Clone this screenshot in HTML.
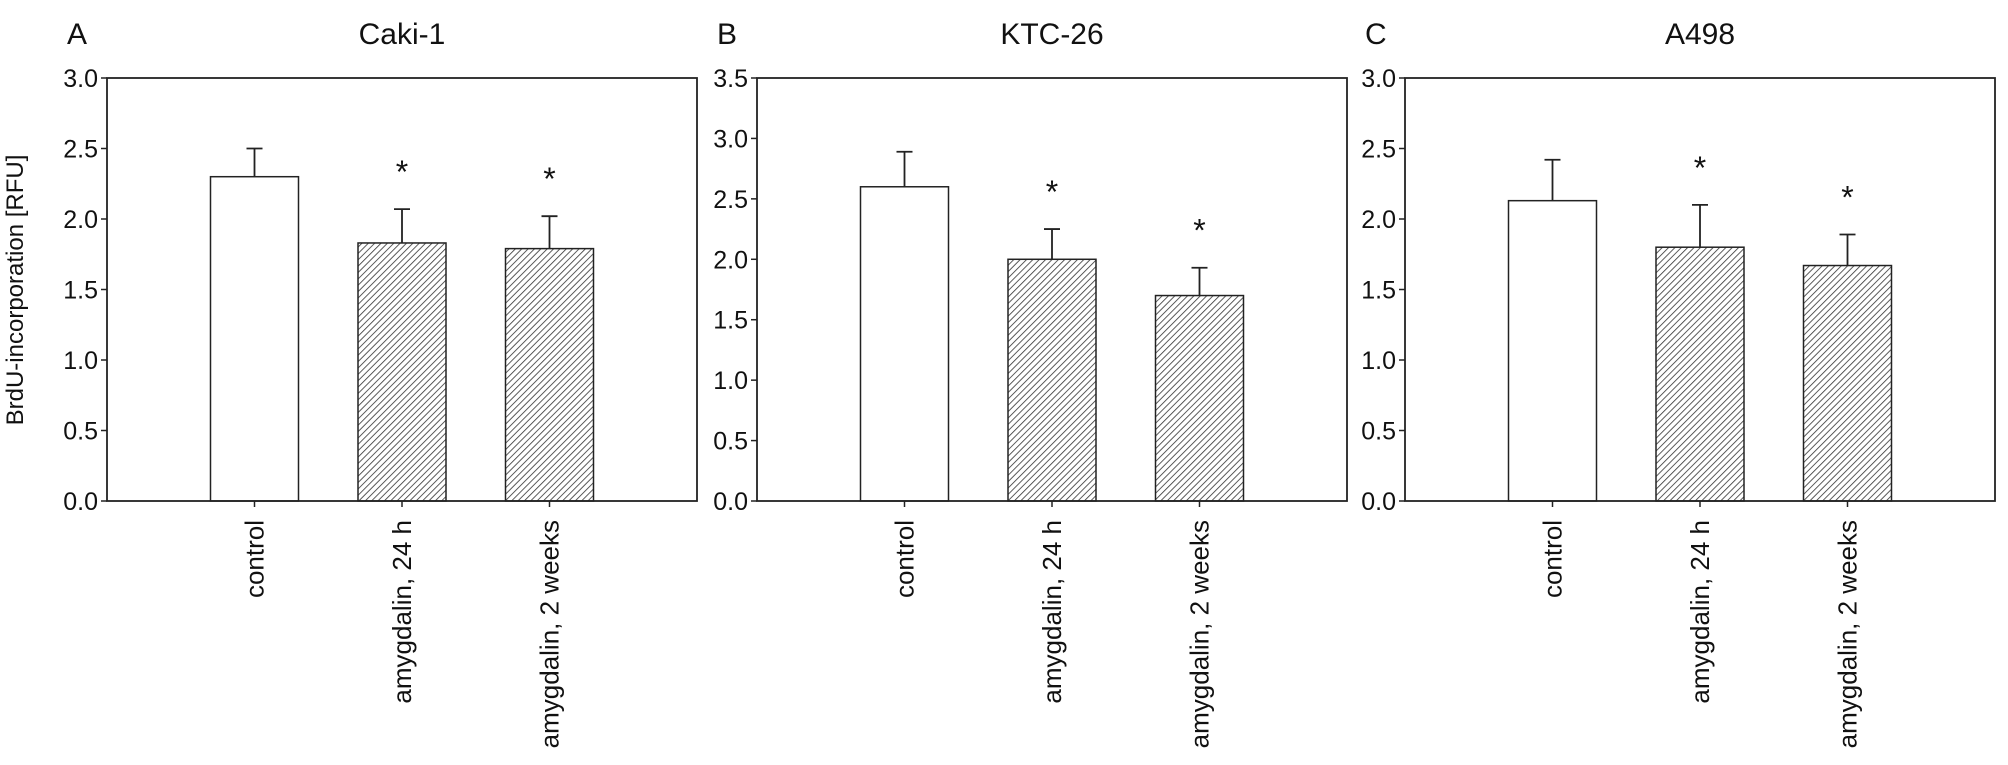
<!DOCTYPE html>
<html>
<head>
<meta charset="utf-8">
<style>
html,body{margin:0;padding:0;background:#fff;}
svg{display:block;}
text{font-family:"Liberation Sans",Arial,sans-serif;fill:#111;}
</style>
</head>
<body>
<svg id="chart" width="2008" height="765" viewBox="0 0 2008 765" xmlns="http://www.w3.org/2000/svg">
<defs>
<pattern id="hatch" patternUnits="userSpaceOnUse" width="4.5" height="4.5" patternTransform="rotate(45)">
<rect width="4.5" height="4.5" fill="#fff"/>
<line x1="0" y1="0" x2="0" y2="4.5" stroke="#333" stroke-width="1.6"/>
</pattern>
</defs>
<text x="23" y="290" font-size="24" text-anchor="middle" transform="rotate(-90 23 290)">BrdU-incorporation [RFU]</text>
</svg>
<script>
const categories = ["control", "amygdalin, 24 h", "amygdalin, 2 weeks"];
const panelLetters = ["A", "B", "C"];
const panelTitles = ["Caki-1", "KTC-26", "A498"];
const yMaxValues = [3.0, 3.5, 3.0];
const meansA = [2.30, 1.83, 1.79];
const errA = [0.20, 0.24, 0.23];
const meansB = [2.60, 2.00, 1.70];
const errB = [0.29, 0.25, 0.23];
const meansC = [2.13, 1.80, 1.67];
const errC = [0.29, 0.30, 0.22];
const significant = [false, true, true];

const svgEl = document.getElementById('chart');
const NS = 'http://www.w3.org/2000/svg';
function mk(tag, attrs, parent) {
  const e = document.createElementNS(NS, tag);
  for (const k in attrs) e.setAttribute(k, attrs[k]);
  (parent || svgEl).appendChild(e);
  return e;
}
const panelLefts = [107, 757, 1405];
const panelW = 590;
const plotTop = 78, plotBottom = 501;
const allMeans = [meansA, meansB, meansC];
const allErr = [errA, errB, errC];

panelLefts.forEach((left, p) => {
  const g = mk('g', {});
  
  
  const yMax = yMaxValues[p];
  const y = v => plotBottom - v / yMax * (plotBottom - plotTop);
  const x = i => left + panelW * (i + 1) / 4;
  const barW = 88;

  const letter = mk('text', {x: left - 40, y: 44, 'font-size': 30}, g);
  letter.textContent = panelLetters[p];
  
  
  const title = mk('text', {x: x(1), y: 44, 'font-size': 30, 'text-anchor': 'middle'}, g);
  title.textContent = panelTitles[p];
  
  

  allMeans[p].forEach((m, i) => {
    const bar = mk('rect', {x: x(i) - barW / 2, y: y(m), width: barW, height: plotBottom - y(m),
      fill: i === 0 ? '#fff' : 'url(#hatch)', stroke: '#222', 'stroke-width': 1.5}, g);
    
    
    const e = m + allErr[p][i];
    const eb = mk('path', {d: `M${x(i)} ${y(m)} V${y(e)} M${x(i) - 8} ${y(e)} H${x(i) + 8}`,
      stroke: '#222', 'stroke-width': 1.8, fill: 'none'}, g);
    
    
    if (significant[i]) {
      const s = mk('text', {x: x(i), y: y(e) - 26, 'font-size': 32, 'text-anchor': 'middle'}, g);
      s.textContent = '*';
      
      
    }
    const tk = mk('line', {x1: x(i), x2: x(i), y1: plotBottom, y2: plotBottom + 6, stroke: '#222', 'stroke-width': 1.5}, g);
    
    
    const lx = x(i) + 9, ly = plotBottom + 19;
    const lb = mk('text', {x: lx, y: ly, 'font-size': 26, 'text-anchor': 'end',
      transform: `rotate(-90 ${lx} ${ly})`}, g);
    lb.textContent = categories[i];
    
    
  });

  const fr = mk('rect', {x: left, y: plotTop, width: panelW, height: plotBottom - plotTop, fill: 'none', stroke: '#222', 'stroke-width': 1.8}, g);
  
  

  for (let v = 0; v <= yMax + 1e-9; v += 0.5) {
    const t = mk('line', {x1: left - 6, x2: left, y1: y(v), y2: y(v), stroke: '#222', 'stroke-width': 1.5}, g);
    
    
    const tl = mk('text', {x: left - 9, y: y(v) + 9, 'font-size': 25, 'text-anchor': 'end'}, g);
    tl.textContent = v.toFixed(1);
    
    
  }
});
</script>
</body>
</html>
